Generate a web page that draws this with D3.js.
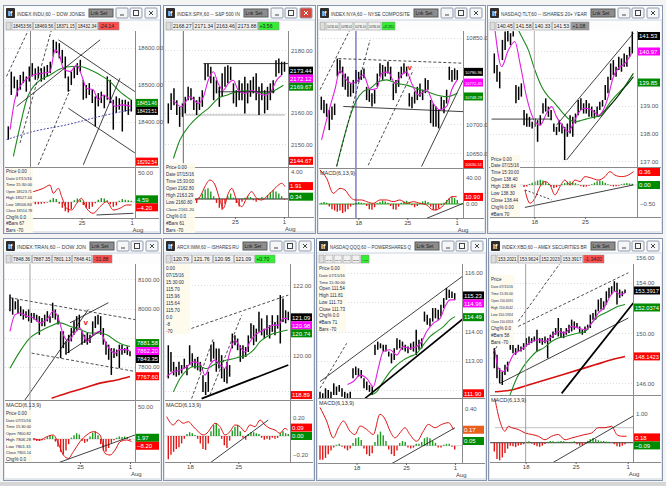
<!DOCTYPE html>
<html>
<head>
<meta charset="utf-8">
<script src="https://cdn.jsdelivr.net/npm/d3@7"></script>
<style>
body { margin: 0; background: #f2f2f2; }
svg { display: block; font-family: "Liberation Sans", Arial, sans-serif; }
</style>
</head>
<body>
<script>
// ---------- INDU ----------
var induBars = [[18388,18352],[18536,18473],[18523,18491],[18514,18469],[18527,18487],[18536,18505],[18523,18482],[18550,18509],[18559,18523],[18545,18514],[18550,18518],[18545,18509],[18550,18514],[18554,18523],[18563,18532],[18622,18577],[18617,18586],[18613,18572],[18595,18559],[18577,18518],[18523,18482],[18536,18500],[18550,18518],[18559,18527],[18568,18536],[18514,18460],[18500,18464],[18505,18473],[18487,18451],[18469,18388],[18478,18442],[18482,18451],[18473,18437],[18523,18460],[18514,18451],[18460,18379],[18469,18424],[18464,18433],[18460,18374],[18460,18428],[18455,18419],[18460,18428]];
var induFast = [[0.6,18379],[2.2,18460],[3.9,18496],[8.3,18527],[13.9,18536],[15.6,18595],[17.2,18577],[18.3,18545],[20.6,18536],[22.8,18554],[24.4,18527],[26.1,18491],[28.3,18487],[30,18460],[31.7,18473],[33.9,18460],[35.6,18442],[37.8,18446],[40.8,18442]];
var induSlow = [[1.7,18307],[3.9,18388],[6.1,18460],[9.4,18505],[13.9,18527],[17.8,18545],[21.1,18550],[23.9,18550],[27.2,18541],[30.6,18527],[33.9,18509],[37.2,18482],[40.8,18460]];
var induBlue = [[-0.6,18352],[8.3,18374],[19.4,18392],[30.6,18415],[40.8,18433]];
var induTrend = [[16.7,18622,42.2,18482],[20,18437,42.2,18316],[25,18284,37.2,18518],[2.8,18442,30.6,18622]];
var induDash = [[-0.6,18523,8.3,18676],[3.9,18343,15,18667],[10,18284,20.6,18487]];
var induTicks = [18600, 18500, 18400];
var induTags = [18433.51, null, 18451.46, 18292.54];
var induMacd = [[8.3,17.8],[11.7,23.6],[13.9,29.3],[15,15],[16.7,23.6],[17.8,9.2],[19.4,-10.9],[21.1,-13.8],[22.8,-2.3],[24.4,6.3],[26.1,-10.9],[28.3,-19.5],[30.6,-8],[32.8,0.6],[35,-13.8],[37.2,-10.9],[39.4,-5.2],[41.1,-5.2]];
var induHist = [-3,-4,-4,-3,-2,-1,4,7,5,-3,-10,-16,-18,-12,3,6,4,-5,-10,-12,-8,-2,4,7,6,3,-4,-8,-6,2,5,4,3,2];
var induMacdTrend = [[29.4,-22.4,41.7,-19.5]];
var induMacdTicks = [50];
var induMacdTags = [-4.20, 4.59];
var induDates = ["25", "1"];
var induDateIdx = [24.4, 41.1];
var induBar = ["18453.56", "18469.56", "18371.15", "18432.34", "-24.14"];
var induInfo = ["Price  0.00", "Date  07/15/16", "Time  15:30:00", "Open  18523.71", "High  18527.44", "Low  18506.84", "Close  18514.78", "Chg%  0.0", "#Bars  67", "Bars  -70"];

// ---------- SPX ----------
var spxBars = [[2163.0,2156.6],[2166.2,2160.9],[2167.8,2162.4],[2164.0,2159.3],[2161.9,2155.5],[2163.0,2158.7],[2165.1,2159.8],[2168.3,2164.0],[2167.8,2164.0],[2165.1,2160.9],[2164.0,2159.3],[2165.1,2160.9],[2167.2,2161.9],[2175.7,2170.4],[2175.7,2171.5],[2174.7,2169.4],[2171.5,2164.0],[2170.4,2166.2],[2168.3,2161.9],[2172.6,2165.1],[2174.7,2168.3],[2175.2,2169.4],[2174.7,2170.4],[2169.4,2163.0],[2167.2,2161.9],[2170.4,2164.0],[2169.4,2164.0],[2171.5,2159.8],[2169.4,2163.0],[2170.4,2165.1],[2171.5,2166.2],[2172.6,2164.0],[2168.3,2159.3],[2169.4,2164.0],[2167.2,2159.8],[2168.3,2160.9],[2169.4,2164.0],[2170.4,2166.2],[2176.8,2171.5],[2177.3,2172.6],[2176.3,2172.0],[2176.3,2173.1]];
var spxFast = [[1.8,2164.0],[4.7,2161.9],[7.6,2165.1],[10.6,2163.0],[12.4,2165.1],[14.1,2170.4],[15.9,2173.1],[17.6,2169.4],[19.4,2167.2],[21.2,2169.4],[22.9,2170.4],[24.7,2167.2],[27.1,2166.2],[29.4,2167.2],[31.8,2166.2],[34.1,2165.6],[36.5,2167.2],[38.2,2170.4],[40,2172.0]];
var spxSlow = [[1.8,2145.4],[4.1,2151.3],[7.6,2156.1],[11.2,2159.3],[14.7,2161.9],[17.6,2164.6],[20.6,2165.6],[24.1,2166.7],[27.6,2167.0],[31.2,2166.7],[34.7,2166.2],[37.6,2167.2],[40.6,2168.8]];
var spxTrend = [[12.4,2175.7,42.4,2175.7],[17.6,2166.7,37.6,2166.7]];
var spxFaint = [[5.9,2159.3,41.2,2159.3]];
var spxTicks = [2180, 2170, 2160, 2150];
var spxTags = [2173.44, 2172.12, 2169.67, 2144.67];
var spxMacd = [[9.4,-0.15],[11.2,0.35],[12.9,1.82],[14.7,2.81],[16.5,2.07],[18.2,-0.15],[19.4,-1.38],[21.2,0.84],[22.4,1.58],[24.1,-0.15],[25.9,-1.14],[27.6,0.1],[29.4,1.09],[31.2,0.1],[32.9,-0.15],[34.7,0.35],[36.5,1.09],[38.2,1.82],[40,2.32],[41.2,1.82]];
var spxHist = [-0.4,-0.6,0.2,0.8,1.4,1.6,1.1,0.4,-0.6,-1.3,-1.6,-0.7,0.4,0.8,0.2,-0.6,-1.1,-0.4,0.2,0.4,0.3,-0.2,-0.4,0.1,0.3,0.1,0.6,1.0,1.3,1.1,0.8,0.4,-0.1];
var spxMacdTicks = [4];
var spxMacdTags = [1.91, 0.34];
var spxDates = ["25", "1"];
var spxDateIdx = [23.5, 40.8];
var spxBar = ["2168.27", "2171.34", "2163.46", "2173.88", "+3.56"];
var spxInfo = ["Price  0.00", "Date  07/15/16", "Time  15:30:00", "Open  2162.80", "High  2163.29", "Low  2160.80", "Close  2161.20", "Chg%  0.0", "#Bars  61", "Bars  -70"];

// ---------- NYA ----------
var nyaBars = [[10748,10725],[10742,10719],[10736,10713],[10725,10690],[10731,10708],[10736,10716],[10814,10783],[10812,10788],[10800,10765],[10788,10760],[10783,10748],[10771,10748],[10777,10754],[10794,10771],[10791,10774],[10794,10777],[10797,10780],[10765,10742],[10760,10739],[10754,10731],[10760,10736],[10788,10765],[10806,10783],[10803,10777],[10800,10783],[10809,10788],[10800,10777],[10771,10742],[10777,10754],[10791,10765],[10800,10780],[10806,10788],[10800,10783],[10754,10731],[10748,10728],[10757,10736],[10765,10742],[10771,10748],[10760,10742],[10780,10754],[10777,10760],[10742,10702],[10736,10696],[10731,10696],[10725,10693],[10748,10725],[10742,10719],[10760,10736],[10800,10777],[10794,10774],[10797,10777],[10794,10777]];
var nyaFast = [[0.1,10673],[2.6,10719],[5.1,10760],[7,10794],[8.9,10780],[11.4,10771],[13.3,10774],[15.8,10786],[18.3,10760],[20.8,10762],[22.6,10788],[25.1,10791],[27.6,10771],[30.1,10786],[32,10791],[33.9,10771],[36.4,10751],[39.5,10760],[42,10736],[44.5,10725],[47,10731],[48.9,10760],[51,10777]];
var nyaSlow = [[5.75,10627],[8.25,10673],[10.75,10713],[13.25,10742],[15.75,10757],[18.25,10762],[21.4,10774],[24.5,10777],[28.25,10771],[32,10768],[35.75,10762],[39.5,10757],[43.25,10751],[47,10748],[51,10754]];
var nyaTrend = [[8.25,10731,53.25,10722],[37.6,10627,53.25,10777]];
var nyaDash = [[6.4,10814,53.25,10806],[-0.5,10760,12.6,10881],[5.75,10627,18.25,10846],[17.6,10629,34.5,10794]];
var nyaMarks = [[33.25,10797]];
var nyaTicks = [10850, 10800, 10750, 10700, 10650];
var nyaTags = [10790.96, 10772.45, 10748.29, 10630.51];
var nyaMacd = [[-0.5,52.3],[2,39.5],[4.5,16.4],[7,24.1],[8.9,21.5],[10.75,11.3],[12.6,6.2],[15.1,6.2],[17,3.6],[19.5,1.0],[22,6.2],[24.5,6.2],[27,3.6],[29.5,6.2],[32,1.0],[34.5,3.6],[37,1.0],[39.5,-1.5],[42,-9.2],[44.5,-6.7],[47,3.6],[48.9,11.3],[50.75,11.3]];
var nyaHist = [2,3,2,-4,-8,-10,-12,-10,-14,-12,-8,-4,-1,2,3,2,1,-3,-8,-9,-5,1,3,5,4,2,-3,-8,-9,-4,2,4,5,3,-2,-5,-3,2,4,5,3,-4,-9,-10,-7,-2,2,6,9,11,9,6];
var nyaMacdTrend = [[39.5,-22,53.25,1.0]];
var nyaMacdTicks = [40, 0];
var nyaMacdTags = [10.90, null];
var nyaDates = ["18", "25", "1"];
var nyaDateIdx = [13.9, 32.25, 50.75];
var nyaBar = ["10741.60", "10783.02", "10731.10", "10765.56", "+47.2851"];

// ---------- TLT ----------
var tltBars = [[140.90,140.18],[140.48,139.88],[140.24,139.64],[141.39,140.66],[141.69,141.02],[141.75,141.33],[141.63,141.20],[141.70,141.51],[139.76,139.10],[139.70,139.22],[139.82,139.34],[138.86,138.31],[138.73,138.25],[138.61,138.25],[138.43,138.19],[138.55,138.25],[138.49,137.71],[138.67,138.31],[139.10,138.73],[139.28,138.80],[138.98,138.61],[138.86,138.49],[138.37,138.07],[138.25,137.95],[138.49,138.07],[138.37,138.01],[138.25,137.05],[138.37,137.89],[138.67,138.01],[138.61,137.89],[138.73,138.37],[139.22,138.67],[139.28,138.86],[139.10,138.73],[139.22,138.73],[139.10,138.61],[138.98,138.61],[138.86,138.55],[138.98,138.61],[139.16,138.86],[139.22,138.98],[139.76,139.22],[140.06,139.46],[140.54,139.94],[140.66,140.12],[140.42,140.06],[140.78,140.30],[140.72,140.24],[140.90,140.42],[140.84,140.42],[141.14,140.78],[141.69,140.90]];
var tltFast = [[0.25,141.75],[2.7,140.42],[5.2,141.02],[7.6,141.33],[9.5,140.54],[11.9,139.34],[14.4,138.55],[16.9,138.31],[19.3,138.73],[21.2,138.98],[23,138.61],[25.5,138.25],[27.3,138.07],[29.2,138.37],[31,138.73],[33.5,138.92],[36,138.86],[38.4,138.67],[40.3,138.86],[42.1,139.34],[44,140.06],[45.8,140.36],[48.3,140.54],[50.7,140.90]];
var tltSlow = [[8.25,141.87],[10.1,141.51],[12.6,141.02],[15,140.30],[17.5,139.70],[20,139.34],[22.4,139.10],[24.9,138.80],[27.3,138.55],[29.8,138.43],[32.3,138.49],[34.7,138.55],[37.2,138.61],[39.7,138.67],[42.1,139.04],[44.6,139.34],[47,139.58],[49.5,139.82],[51.4,140.06]];
var tltSlow2 = [[38.4,138.61],[44.6,139.22],[51.4,140.18]];
var tltTrend = [[-1,138.53,21.2,138.53],[23,138.31,51.4,141.63],[26.7,137.05,51.4,140.06]];
var tltTicks = [141, 140, 139, 138, 137];
var tltTags = [141.53, 140.97, 139.85, null];
var tltMacd = [[11.3,-0.13],[13.2,-0.48],[15,-0.35],[16.9,-0.04],[18.7,0.09],[20.6,0],[22.4,-0.26],[24.3,-0.04],[26.1,0.13],[28,0],[29.8,0.13],[31.7,0.09],[33.5,0.22],[36,0.18],[38.4,0.13],[40.9,0.22],[42.7,0.35],[44.6,0.26],[47,0.22],[49.5,0.26],[51.4,0.35]];
var tltHist = [-0.05,-0.04,0.03,0.06,0.09,0.12,0.14,0.12,0.08,0.03,-0.04,-0.08,-0.06,-0.02,0.02,0.05,0.08,0.1,0.08,0.05,0.02,-0.03,-0.05,-0.04,-0.02,0.02,0.06,0.1,0.12,0.1,0.06,0.02,-0.02,-0.04,-0.03,-0.02,0.02,0.04,0.05,0.04,0.03];
var tltMacdTrend = [[11.3,-0.59,51.4,0]];
var tltMacdDash = [[11.3,-0.13,21.2,-0.39]];
var tltMacdTicks = [-0.5];
var tltMacdTags = [0.36, 0.00];
var tltDates = ["18", "25"];
var tltDateIdx = [14.8, 33.5];
var tltBar = ["140.45", "141.58", "140.33", "141.53", "+1.08"];
var tltInfo = ["Price  0.00", "Date  07/15/16", "Time  15:30:00", "Open  138.40", "High  138.64", "Low  138.30", "Close  138.44", "Chg%  0.00", "#Bars  70"];

// ---------- TRAN ----------
var tranBars = [[8048,7991],[8037,7979],[8025,7997],[8031,7985],[8008,7974],[7997,7962],[7991,7968],[7997,7956],[7985,7951],[7985,7962],[7979,7956],[7974,7910],[7968,7939],[7979,7939],[7991,7956],[7974,7951],[8020,7968],[7997,7962],[7979,7945],[7922,7830],[7922,7864],[7887,7841],[7910,7847],[7933,7887],[7956,7910],[7974,7922],[7979,7933],[7922,7876],[7910,7882],[7916,7876],[7910,7882],[7956,7910],[7974,7933],[7979,7945],[7974,7910],[7933,7876],[7887,7841],[7876,7824],[7864,7772],[7864,7830],[7859,7836],[7876,7795],[7876,7841],[7864,7847],[7870,7841],[7853,7836]];
var tranFast = [[0,7922],[1.9,7979],[3.75,7985],[6.25,7974],[8.75,7968],[11.25,7951],[13.75,7962],[16.25,7991],[18.1,7968],[20,7910],[21.9,7887],[23.75,7910],[26.25,7933],[28.75,7887],[31.25,7910],[33.75,7922],[35.6,7887],[37.5,7859],[39.4,7847],[41.25,7859],[43.75,7859],[45,7853]];
var tranSlow = [[0,7795],[3.75,7853],[7.5,7899],[11.25,7922],[15,7939],[18.75,7951],[22.5,7939],[26.25,7928],[30,7916],[33.75,7916],[36.25,7910],[40,7887],[42.5,7876],[45,7870]];
var tranLong = [[15.6,7692],[21.25,7709],[27.5,7726],[33.75,7744],[40,7755],[45,7767]];
var tranTrend = [[5.6,7686,29.4,7997],[22.5,7951,36.9,8020],[21.25,7847,33.75,7922]];
var tranDash = [[0,8037,46.9,7962],[8.1,7847,46.9,7784],[0,8158,1.9,8204]];
var tranMarks = [[28.5,7951]];
var tranTicks = [8100, 8000, 7900, 7800];
var tranTags = [7843.35, 7862.20, 7881.58, 7767.60];
var tranMacd = [[8.75,1.0],[11.25,-1.6],[13.75,3.6],[16.25,6.3],[18.1,-6.8],[20,-25],[21.9,-30.2],[23.75,-19.8],[26.25,-4.2],[28.75,6.3],[31.25,11.5],[33.75,6.3],[35.6,-22.4],[37.5,-25],[39.4,-17.2],[41.25,-4.2],[43.75,-1.6],[45.6,-4.2]];
var tranHist = [-2,-3,-3,-2,-1,3,6,5,-4,-12,-20,-24,-18,-8,2,6,9,7,-3,-6,-4,4,10,12,6,-8,-18,-20,-14,-6,-2,2,4,3,4,3,-2];
var tranMacdTrend = [[17.5,-38,46.9,6.3]];
var tranMacdTicks = [50];
var tranMacdTags = [-8.20, 1.97];
var tranDates = ["25", "1"];
var tranDateIdx = [26.25, 45];
var tranBar = ["7848.36", "7887.35", "7801.13", "7848.41", "-31.88"];
var tranInfo = ["Price  0.00", "Date  07/15/16", "Time  15:30:00", "Open  7800.82", "High  7806.28", "Low  7801.31", "Close  7805.14", "Chg%  0.0"];

// ---------- IWM ----------
var iwmBars = [[120.30,119.36],[120.11,119.55],[119.83,119.45],[119.69,119.41],[119.83,119.45],[119.74,119.50],[119.92,119.64],[119.74,119.45],[120.30,119.74],[120.07,119.69],[119.92,119.64],[119.97,119.59],[119.83,119.55],[119.45,118.98],[119.26,118.89],[119.55,118.98],[120.30,119.83],[120.40,119.92],[120.21,119.55],[120.21,119.64],[120.02,119.36],[119.64,119.26],[119.83,119.22],[119.74,119.41],[120.63,120.21],[120.58,120.30],[120.49,120.16],[120.30,119.83],[120.30,119.92],[120.25,119.97],[120.58,120.11],[120.92,120.49],[120.87,120.30],[120.77,120.40],[121.25,120.68],[121.06,120.58],[120.77,120.49],[121.15,120.58],[120.87,120.49],[121.15,120.68],[120.96,120.58],[121.15,120.77],[121.72,120.35],[121.62,120.96],[121.29,120.92],[121.25,121.01]];
var iwmFast = [[-0.6,119.41],[1.9,119.55],[4.4,119.59],[6.9,119.69],[9.4,119.83],[11.9,119.78],[13.75,119.45],[15.6,119.74],[17.5,119.88],[19.4,119.74],[21.25,119.64],[23.1,120.11],[25,120.44],[26.9,120.25],[28.75,120.11],[30.6,120.40],[32.5,120.58],[34.4,120.68],[36.9,120.77],[39.4,120.87],[41.25,120.87],[43.1,121.06],[44.75,121.06]];
var iwmSlow = [[1.9,118.98],[4.4,119.36],[6.9,119.59],[9.4,119.69],[11.9,119.69],[14.4,119.64],[16.9,119.74],[19.4,119.83],[21.9,119.88],[24.4,119.92],[26.9,119.97],[29.4,120.02],[31.9,120.16],[34.4,120.40],[36.9,120.54],[39.4,120.63],[41.9,120.68],[44.75,120.73]];
var iwmHeavy = [[12.5,118.79,45,119.74]];
var iwmDash = [[6.9,120.73,45,121.72],[8.75,118.79,16.9,120.49],[15.6,118.89,27.5,121.15]];
var iwmTicks = [122, 121, 120, 119];
var iwmTags = [121.09, 120.98, 120.74, 118.89];
var iwmMacd = [[-0.6,0.207],[1.9,0.118],[3.75,0.171],[5.6,0.136],[7.5,0.153],[9.4,0.1],[11.25,0.046],[13.1,0.011],[15,0.046],[16.25,0.1],[17.5,0.136],[19.4,0.1],[21.25,0.011],[23.1,0.046],[25,0.118],[26.9,0.1],[28.75,0.046],[30.6,0.118],[32.5,0.1],[34.4,0.171],[36.25,0.118],[38.1,0.082],[40,0.064],[41.9,0.029],[43.75,0.082],[44.75,0.064]];
var iwmHist = [-0.25,-0.2,-0.17,-0.14,-0.12,-0.08,-0.03,0.02,0.04,0.03,0.01,-0.03,-0.08,-0.14,-0.15,-0.08,0.05,0.12,0.14,0.08,-0.03,-0.1,-0.13,-0.05,0.06,0.1,0.12,0.05,-0.02,-0.04,0.02,0.04,0.04,0.03,0.02,-0.02,-0.04,-0.03,-0.04,-0.02,-0.03,-0.02,0.03,0.05,0.03,0.02];
var iwmMacdTrend = [[15.6,-0.29,37.5,0.171]];
var iwmMacdTicks = [0.2, -0.2];
var iwmMacdTags = [0.09, 0.00];
var iwmDates = ["18", "25"];
var iwmDateIdx = [8.1, 26.25];
var iwmBar = ["120.79", "121.76", "120.95", "121.09", "+0.70"];
var iwmInfo = ["0.00", "07/15/16", "15:30:00", "115.70", "115.96", "115.64", "115.70", "0.0", "-8", "-70"];

// ---------- QQQ ----------
var qqqBars = [[111.95,111.73],[111.90,111.73],[112.07,111.73],[112.01,111.73],[111.95,111.73],[112.24,111.84],[112.13,111.84],[112.18,111.95],[112.07,111.78],[111.95,111.73],[111.90,111.73],[111.95,111.73],[112.75,112.41],[112.81,112.52],[112.75,112.47],[112.69,112.41],[112.41,112.07],[112.30,112.01],[112.18,111.95],[112.13,111.84],[113.55,113.20],[113.66,113.38],[113.60,113.43],[113.55,113.32],[113.55,113.32],[113.32,113.15],[113.26,112.92],[113.43,113.03],[113.77,113.38],[113.72,113.43],[113.66,113.38],[113.55,113.32],[113.49,113.26],[113.60,113.38],[113.66,113.32],[114.06,113.20],[113.72,113.38],[113.77,113.43],[114.68,114.34],[114.57,114.23],[114.45,114.17],[114.80,114.34],[114.80,114.45],[114.74,114.40],[114.91,114.51],[115.14,114.80],[115.48,115.08],[115.42,115.14],[115.36,115.14],[115.31,115.08]];
var qqqFast = [[10,112.2],[12.1,112.30],[14.6,112.52],[17,112.41],[19.4,112.13],[21.2,112.75],[23,113.32],[25.5,113.38],[27.9,113.20],[30.3,113.49],[32.7,113.43],[35.2,113.49],[37,113.66],[38.8,114.0],[41.2,114.28],[43.7,114.45],[45.5,114.85],[47.3,115.08],[49.1,115.08]];
var qqqSlow = [[18.2,111.84],[20.6,111.95],[23,112.30],[25.5,112.64],[27.9,112.86],[30.3,113.03],[32.7,113.15],[35.2,113.26],[37.6,113.55],[40,113.83],[42.4,114.0],[44.9,114.17],[47.3,114.40],[49.1,114.51]];
var qqqTrend = [[0,112.30,53.4,115.99]];
var qqqHeavy = [[16.4,111.73,52.2,114.45]];
var qqqDash = [[0,112.07,9.7,113.60]];
var qqqTicks = [116, 115, 114, 113, 112];
var qqqTags = [115.23, 114.96, 114.49, 111.90];
var qqqMacd = [[0,0.407],[2.4,0.263],[4.85,0.083],[6.7,0.191],[8.5,0.263],[10.9,0.155],[12.7,0.119],[14.6,0.209],[17,0.173],[19.4,0.119],[21.8,0.335],[23.7,0.281],[25.5,0.155],[27.3,0.083],[29.1,0.137],[30.9,0.191],[32.7,0.119],[35.2,0.047],[37.6,0.155],[39.4,0.227],[41.8,0.191],[44.3,0.227],[46.7,0.245],[48.5,0.173]];
var qqqHist = [-0.15,-0.15,-0.13,-0.09,-0.05,-0.02,0.01,0.02,-0.01,-0.03,-0.05,-0.03,0.03,0.08,0.09,0.06,-0.03,-0.09,-0.11,-0.08,0.04,0.12,0.15,0.11,0.05,-0.04,-0.09,-0.11,-0.05,0.03,0.05,0.04,-0.02,-0.03,-0.02,0.02,0.02,0.04,0.08,0.09,0.08,0.05,0.03,-0.02,-0.02,0.01,0.02,0.02,-0.01,-0.04];
var qqqMacdTrend = [[26.1,-0.19,49.1,0.191]];
var qqqMacdTicks = [0.4, 0];
var qqqMacdTags = [0.17, 0.05];
var qqqDates = ["18", "25", "1"];
var qqqDateIdx = [13.3, 31.3, 49.1];
var qqqBar = ["114.20", "115.48", "114.97", "115.23", "+0.30"];
var qqqInfo = ["Price  0.00", "Date  07/15/16", "Time  15:30:00", "Open  111.54", "High  111.81", "Low  111.73", "Close  111.73", "Chg%  0.0", "#Bars  71", "Bars  -70"];

// ---------- XBD ----------
var xbdBars = [[148.80,147.20],[148.27,146.40],[147.20,146.00],[146.93,145.87],[147.47,146.67],[147.73,146.93],[149.33,148.67],[149.07,148.40],[148.80,148.27],[149.07,148.53],[148.93,148.53],[149.20,148.67],[149.60,148.93],[149.73,149.07],[149.60,149.20],[149.73,149.33],[150.27,148.53],[149.60,149.20],[149.60,149.07],[149.73,149.20],[149.60,148.00],[149.87,149.33],[150.13,149.60],[150.40,149.87],[151.20,149.73],[150.40,149.60],[150.13,149.60],[150.40,149.87],[150.67,150.00],[151.07,150.13],[150.93,150.27],[150.80,150.40],[150.53,150.00],[150.27,149.87],[150.53,150.00],[150.67,150.27],[151.47,150.40],[151.60,151.07],[151.87,151.07],[152.67,151.73],[152.80,151.87],[152.53,151.87],[153.33,152.27],[153.60,152.80],[153.73,153.07],[154.13,153.33],[154.00,152.27],[153.47,152.80],[153.33,152.93],[153.47,153.20]];
var xbdFast = [[0.25,148.67],[1.5,147.20],[3.4,146.93],[5.25,147.47],[7.1,148.27],[9,148.53],[11.5,148.93],[14,149.33],[16.5,149.47],[19,149.33],[21.5,149.73],[24,150.13],[26.5,150.0],[29,150.53],[31.5,150.40],[34,150.27],[36.5,150.80],[39,151.60],[41.5,152.13],[43.4,152.93],[45.25,153.33],[47.1,153.07],[49,153.20]];
var xbdSlow = [[5.9,145.07],[8.4,146.40],[10.9,147.33],[13.4,148.0],[15.9,148.53],[18.4,148.80],[21.5,149.33],[24,149.60],[26.5,149.73],[29,149.87],[31.5,150.0],[34,150.13],[36.5,150.80],[39,151.33],[41.5,151.60],[44,151.87],[46.5,152.13],[49,152.27]];
var xbdLong = [[0.25,145.33],[6.5,145.47],[12.75,145.87],[19,146.27],[25.25,146.67],[31.5,147.07],[37.75,147.47],[44,147.87],[49,148.13]];
var xbdTrend = [[2.1,146.0,50.25,151.20]];
var xbdHeavy = [[25.25,145.2,52.1,152.4]];
var xbdDash = [[9,150.53,50.25,154.80],[9,150.93,25.25,155.73],[-0.4,148.4,5.25,150.67]];
var xbdTicks = [156, 154, 152, 150, 148, 146];
var xbdTags = [153.3917, null, 152.0374, 148.1423];
var xbdMacd = [[0.25,1.48],[2.1,0.73],[4,0.39],[5.25,0.56],[6.5,0.51],[9,0.45],[11.5,0.33],[14,0.28],[16.5,0.22],[19,0.10],[21.5,0.22],[24,0.28],[26.5,0.10],[29,0.16],[31.5,0.22],[34,0.28],[36.5,0.33],[39,0.51],[41.5,0.51],[44,0.56],[45.9,0.28],[47.75,0.22],[49.6,0.22]];
var xbdHist = [-0.3,-0.55,-0.6,-0.5,-0.35,-0.2,-0.1,-0.12,-0.15,-0.1,-0.08,-0.05,0.03,0.05,-0.03,-0.08,-0.12,-0.14,-0.1,-0.04,0.03,0.06,0.05,0.03,0.04,0.06,0.05,0.03,0.01,0.03,0.05,-0.05,-0.1,-0.08,-0.03,0.06,0.12,0.16,0.12,0.08,0.05,0.06,0.04,0.03,0.01,-0.05,-0.12,-0.14,-0.1,-0.05];
var xbdMacdTrend = [[21.5,-0.7,52.1,0.91]];
var xbdMacdFaint = [[0.25,0.51,52.5,0.51]];
var xbdMacdTicks = [1.0];
var xbdMacdTags = [0.18, -0.09];
var xbdDates = ["18", "25", "1"];
var xbdDateIdx = [11.75, 30.5, 50];
var xbdBar = ["153.2021", "153.9624", "152.2023", "153.3917", "-1.3400"];
var xbdInfo = ["Price", "Date  07/15/16", "Time  15:30:00", "Open  150.6591", "High  150.6542", "Low  150.5924", "Close  150.6353", "Chg%  0.0", "#Bars  58", "Bars  -70"];

var W = 666, H = 486;
var svg = d3.select("body").append("svg").attr("width", W).attr("height", H);
svg.append("rect").attr("width", W).attr("height", H).attr("fill", "#f4f4f4");
svg.append("rect").attr("x", 0).attr("y", 482).attr("width", W).attr("height", 4).attr("fill", "#d6d6d6");

var tagColors = ["#000000", "#ff00ff", "#008a00", "#ff0000"];
var red = "#ff4d4d", green = "#33ee33", gray = "#9a9a9a";

var panels = [
  {title: "INDEX:INDU,60 -- DOW JONES", win: [3, 5, 161, 234], left: 5, axis: 135, xr: [8.3, 131.3], pb: 167, mb: 218, tbEnd: 120,
   yd: [18278, 18646], md: [-27.6, 58.6], bars: induBars, fast: induFast, slow: induSlow, blue: induBlue,
   trend: induTrend, dash: induDash, cursor: 7.4, ticks: induTicks, tags: induTags, fmt: ".2f",
   macd: induMacd, hist: induHist, hs: 8, mtrend: induMacdTrend, mticks: induMacdTicks, mtags: induMacdTags,
   dates: induDates, dateIdx: induDateIdx, bar: induBar, chgC: red, info: induInfo, infoBox: [5, 168, 28, 65]},
  {title: "INDEX:SPX,60 -- S&P 500 IN", win: [163, 5, 316, 234], left: 165, axis: 288, xr: [168.3, 284.5], pb: 167, mb: 217, tbEnd: 280,
   yd: [2142.7, 2186.1], md: [-2.67, 4.59], bars: spxBars, fast: spxFast, slow: spxSlow,
   trend: spxTrend, faint: spxFaint, cursor: 5.3, cursorC: "#555", ticks: spxTicks, tags: spxTags, fmt: ".2f",
   macd: spxMacd, hist: spxHist, hs: 9, mticks: spxMacdTicks, mtags: spxMacdTags, zeroC: "#000",
   dates: spxDates, dateIdx: spxDateIdx, bar: spxBar, chgC: green, info: spxInfo, infoBox: [165, 163, 30, 70], redClose: true},
  {title: "INDEX:NYA,60 -- NYSE COMPOSITE", win: [317, 5, 486, 234], left: 319, axis: 463, xr: [321.3, 457.3], pb: 168, mb: 218, tbEnd: 396,
   yd: [10624.3, 10861.8], md: [-21.5, 53.8], bars: nyaBars, fast: nyaFast, slow: nyaSlow,
   trend: nyaTrend, dash: nyaDash, marks: nyaMarks, cursor: 13, cursorC: "#2a2aa0", ticks: nyaTicks, tags: nyaTags, fmt: ".2f",
   macd: nyaMacd, hist: nyaHist, hs: 0, mtrend: nyaMacdTrend, mticks: nyaMacdTicks, mtags: nyaMacdTags, zeroC: "#1e9a1e",
   dates: nyaDates, dateIdx: nyaDateIdx, bar: nyaBar, chgC: green},
  {title: "NASDAQ:TLT,60 -- ISHARES 20+ YEAR", win: [487, 5, 663, 234], left: 490, axis: 637, xr: [494.3, 632.3], pb: 167, mb: 217, tbEnd: 590,
   yd: [136.80, 141.71], md: [-0.842, 0.447], bars: tltBars, fast: tltFast, slow: tltSlow, slow2: tltSlow2,
   trend: tltTrend, cursor: 14.8, cursorC: "#aaa", ticks: tltTicks, tags: tltTags, fmt: ".2f",
   macd: tltMacd, hist: tltHist, hs: 11, mtrend: tltMacdTrend, mdash: tltMacdDash, mticks: tltMacdTicks, mtags: tltMacdTags,
   dates: tltDates, dateIdx: tltDateIdx, bar: tltBar, chgC: gray, info: tltInfo, infoBox: [490, 155, 30, 62]},
  {title: "INDEX:TRAN,60 -- DOW JON", win: [3, 238, 162, 481], left: 5, axis: 135, xr: [10, 130], pb: 400, mb: 462, tbEnd: 113,
   yd: [7686, 8153], md: [-35.9, 59.4], bars: tranBars, fast: tranFast, slow: tranSlow, long: tranLong,
   trend: tranTrend, dash: tranDash, marks: tranMarks, cursor: 7.5, cursorC: "#999", ticks: tranTicks, tags: tranTags, fmt: ".2f",
   macd: tranMacd, hist: tranHist, hs: 9, mtrend: tranMacdTrend, mticks: tranMacdTicks, mtags: tranMacdTags,
   dates: tranDates, dateIdx: tranDateIdx, bar: tranBar, chgC: red, info: tranInfo, infoBox: [5, 410, 27, 52]},
  {title: "ARCX:IWM,60 -- ISHARES RU", win: [163, 238, 315, 481], left: 165, axis: 290, xr: [168.3, 288.3], pb: 400, mb: 462, tbEnd: 276,
   yd: [118.75, 122.6], md: [-0.279, 0.375], bars: iwmBars, fast: iwmFast, slow: iwmSlow,
   heavy: iwmHeavy, dash: iwmDash, ticks: iwmTicks, tags: iwmTags, fmt: ".2f",
   macd: iwmMacd, hist: iwmHist, hs: 0, mtrend: iwmMacdTrend, mticks: iwmMacdTicks, mtags: iwmMacdTags,
   dates: iwmDates, dateIdx: iwmDateIdx, bar: iwmBar, chgC: green, info: iwmInfo, infoBox: [165, 264, 25, 70]},
  {title: "NASDAQ:QQQ,60 -- POWERSHARES Q", win: [316, 238, 487, 481], left: 318, axis: 462, xr: [320, 454.7], pb: 398, mb: 463, tbEnd: 370,
   yd: [111.74, 116.3], md: [-0.184, 0.497], bars: qqqBars, fast: qqqFast, slow: qqqSlow,
   trend: qqqTrend, heavy: qqqHeavy, dash: qqqDash, ticks: qqqTicks, tags: qqqTags, fmt: ".2f",
   macd: qqqMacd, hist: qqqHist, hs: 0, mtrend: qqqMacdTrend, mticks: qqqMacdTicks, mtags: qqqMacdTags, firstMacdTag: "#e8601c",
   dates: qqqDates, dateIdx: qqqDateIdx, bar: qqqBar, chgC: green, info: qqqInfo, infoBox: [318, 265, 28, 67]},
  {title: "INDEX:XBD,60 -- AMEX SECURITIES BR", win: [488, 238, 663, 481], left: 490, axis: 633, xr: [494.3, 625], pb: 395, mb: 462, tbEnd: 605,
   yd: [145.07, 155.5], md: [-0.655, 1.586], bars: xbdBars, fast: xbdFast, slow: xbdSlow, long: xbdLong,
   trend: xbdTrend, heavy: xbdHeavy, dash: xbdDash, cursor: 11.75, cursorC: "#999", ticks: xbdTicks, tags: xbdTags, fmt: ".4f",
   macd: xbdMacd, hist: xbdHist, hs: 0, mtrend: xbdMacdTrend, mfaint: xbdMacdFaint, mticks: xbdMacdTicks, mtags: xbdMacdTags, zeroC: "#222",
   dates: xbdDates, dateIdx: xbdDateIdx, bar: xbdBar, chgC: red, info: xbdInfo, infoBox: [490, 275, 24, 70]}
];

// shrink the font of a text node so it never runs wider than w
function fit(sel, w) {
  sel.each(function() {
    var n = this.getComputedTextLength();
    if (n > w) {
      var fs = parseFloat(d3.select(this).attr("font-size"));
      d3.select(this).attr("font-size", (fs * w / n).toFixed(2));
    }
  });
}

function drawTags(g, vals, colors, scale, fmt, xa, xe, yMin, yMax) {
  var items = [];
  vals.forEach(function(v, i) { if (v !== null) items.push({v: v, c: colors[i], y: scale(v)}); });
  items.sort(function(a, b) { return a.y - b.y; });
  var h = 8, prev = -1e9;
  items.forEach(function(d) {
    d.y = Math.max(d.y, prev + h, yMin + h / 2);
    d.y = Math.min(d.y, yMax - h / 2);
    prev = d.y;
  });
  var f = d3.format(fmt);
  var t = g.selectAll(null).data(items).enter().append("g");
  t.append("rect").attr("x", xa + 1).attr("y", function(d) { return d.y - h / 2; })
    .attr("width", xe - xa - 2).attr("height", h).attr("fill", function(d) { return d.c; });
  t.append("text").attr("x", xa + 2).attr("y", function(d) { return d.y + 2.3; })
    .attr("font-size", 6).attr("fill", "#fff").text(function(d) { return f(d.v); })
    .call(fit, xe - xa - 4);
  return items.map(function(d) { return d.y; });
}

function freeTicks(ticks, sc, taken) {
  return ticks.filter(function(t) {
    return taken.every(function(ty) { return Math.abs(sc(t) - ty) > 7; });
  });
}

function drawPanel(c, k) {
  var x0 = c.win[0], y0 = c.win[1], x1 = c.win[2], y1 = c.win[3];
  var pt = y0 + 26;
  var g = svg.append("g");

  // window frame and title bar
  g.append("rect").attr("x", x0 + 0.5).attr("y", y0 + 0.5).attr("width", x1 - x0 - 1).attr("height", y1 - y0 - 1)
    .attr("fill", "#e3e8ef").attr("stroke", "#8796ad");
  g.append("rect").attr("x", x0 + 1).attr("y", y0 + 1).attr("width", x1 - x0 - 2).attr("height", 13).attr("fill", "#fbfcfe");
  g.append("rect").attr("x", x0 + 3).attr("y", y0 + 3).attr("width", 9).attr("height", 10).attr("rx", 1).attr("fill", "#2d2d2d");
  g.append("text").attr("x", x0 + 5).attr("y", y0 + 11).attr("font-size", 7).attr("font-weight", "bold").attr("fill", "#fff").text("lf");
  g.append("text").attr("x", x0 + 14).attr("y", y0 + 10.8).attr("font-size", 6.6).attr("fill", "#3a3a3a")
    .text(c.title).call(fit, x1 - 76 - (x0 + 14));
  g.append("rect").attr("x", x1 - 72).attr("y", y0 + 4).attr("width", 24).attr("height", 8).attr("fill", "#8d8d8d").attr("stroke", "#5a5a5a");
  g.append("text").attr("x", x1 - 70.5).attr("y", y0 + 10.3).attr("font-size", 5).attr("fill", "#1c1c1c").text("Lnk Set").call(fit, 20);
  [x1 - 45, x1 - 31, x1 - 16].forEach(function(b, i) {
    g.append("rect").attr("x", b).attr("y", y0 + 3).attr("width", 12).attr("height", 10).attr("rx", 1)
      .attr("fill", (i === 2 && c.redClose) ? "#d8463a" : "#f5f6f8").attr("stroke", "#8f99aa");
    var gc = (i === 2 && c.redClose) ? "#fff" : "#444";
    if (i === 0) g.append("line").attr("x1", b + 4).attr("x2", b + 8).attr("y1", y0 + 10).attr("y2", y0 + 10).attr("stroke", gc);
    if (i === 1) g.append("rect").attr("x", b + 3.5).attr("y", y0 + 5.5).attr("width", 5).attr("height", 5).attr("fill", "none").attr("stroke", gc);
    if (i === 2) {
      g.append("line").attr("x1", b + 4).attr("x2", b + 8).attr("y1", y0 + 6).attr("y2", y0 + 10).attr("stroke", gc);
      g.append("line").attr("x1", b + 8).attr("x2", b + 4).attr("y1", y0 + 6).attr("y2", y0 + 10).attr("stroke", gc);
    }
  });

  // toolbar of OHLC values
  var ty = y0 + 16;
  g.append("rect").attr("x", x0 + 2).attr("y", ty).attr("width", x1 - x0 - 4).attr("height", 10).attr("fill", "#fdfdfd");
  g.append("rect").attr("x", x0 + 3).attr("y", ty + 1).attr("width", 5).attr("height", 8).attr("fill", "#ddd").attr("stroke", "#888").attr("stroke-width", 0.5);
  var bw = (c.tbEnd - (x0 + 9)) / c.bar.length;
  c.bar.forEach(function(t, i) {
    var bx = x0 + 9 + i * bw, last = i === c.bar.length - 1;
    g.append("rect").attr("x", bx).attr("y", ty + 1).attr("width", bw - 1).attr("height", 8)
      .attr("fill", last ? c.chgC : "#f1f1f1").attr("stroke", "#8a8a8a").attr("stroke-width", 0.5);
    g.append("text").attr("x", bx + 1).attr("y", ty + 7).attr("font-size", 5.2).attr("fill", "#222").text(t).call(fit, bw - 3);
  });

  // scales
  var x = d3.scaleLinear().domain([0, c.bars.length - 1]).range(c.xr);
  var y = d3.scaleLinear().domain(c.yd).range([c.pb, pt]);
  var m = d3.scaleLinear().domain(c.md).range([c.mb, c.pb + 1]);

  // content background
  g.append("rect").attr("x", x0 + 2).attr("y", pt).attr("width", x1 - x0 - 4).attr("height", y1 - 3 - pt).attr("fill", "#fff");

  var defs = g.append("defs");
  defs.append("clipPath").attr("id", "cp" + k).append("rect").attr("x", c.left).attr("y", pt).attr("width", c.axis - c.left).attr("height", c.pb - pt);
  defs.append("clipPath").attr("id", "cm" + k).append("rect").attr("x", c.left).attr("y", c.pb + 1).attr("width", c.axis - c.left).attr("height", c.mb - c.pb - 1);

  var pg = g.append("g").attr("clip-path", "url(#cp" + k + ")");
  var mg = g.append("g").attr("clip-path", "url(#cm" + k + ")");

  // grid
  pg.selectAll(null).data(c.ticks).enter().append("line")
    .attr("x1", c.left).attr("x2", c.axis).attr("y1", function(d) { return Math.round(y(d)) + 0.5; }).attr("y2", function(d) { return Math.round(y(d)) + 0.5; })
    .attr("stroke", "#c8c8c8").attr("stroke-width", 0.6).attr("stroke-dasharray", "1,2");

  if (c.cursor !== undefined) {
    g.append("line").attr("x1", x(c.cursor)).attr("x2", x(c.cursor)).attr("y1", pt).attr("y2", c.mb)
      .attr("stroke", c.cursorC || "#777").attr("stroke-width", 0.9);
  }

  function segs(sel, arr, sc, col, w, dash) {
    sel.selectAll(null).data(arr || []).enter().append("line")
      .attr("x1", function(d) { return x(d[0]); }).attr("y1", function(d) { return sc(d[1]); })
      .attr("x2", function(d) { return x(d[2]); }).attr("y2", function(d) { return sc(d[3]); })
      .attr("stroke", col).attr("stroke-width", w).attr("stroke-dasharray", dash || null);
  }

  segs(pg, c.faint, y, "#9a9a9a", 0.8);

  // bars
  pg.selectAll(null).data(c.bars).enter().append("line")
    .attr("x1", function(d, i) { return x(i); }).attr("x2", function(d, i) { return x(i); })
    .attr("y1", function(d) { return y(d[0]); }).attr("y2", function(d) { return y(d[1]); })
    .attr("stroke", "#000").attr("stroke-width", 1.5);

  // averages
  var lp = d3.line().x(function(d) { return x(d[0]); }).y(function(d) { return y(d[1]); }).curve(d3.curveMonotoneX);
  function ma(arr, col, w, dash) {
    if (!arr) return;
    pg.append("path").datum(arr).attr("d", lp).attr("fill", "none").attr("stroke", col).attr("stroke-width", w).attr("stroke-dasharray", dash || null);
  }
  ma(c.blue, "#3a3ab0", 0.9, "2,1.5");
  ma(c.long, "#d81010", 1.6);
  ma(c.slow, "#1d8a1d", 1.1);
  ma(c.slow2, "#0d5c0d", 1.1);
  ma(c.fast, "#e020e0", 1.1);

  segs(pg, c.trend, y, "#111", 0.8);
  segs(pg, c.heavy, y, "#000", 1.7);
  segs(pg, c.dash, y, "#222", 0.8, "3,2");

  pg.selectAll(null).data(c.marks || []).enter().append("text")
    .attr("x", function(d) { return x(d[0]) - 2.5; }).attr("y", function(d) { return y(d[1]) + 2; })
    .attr("font-size", 8).attr("font-weight", "bold").attr("fill", "#d81818").text("v");

  // panes borders and axis line
  g.append("line").attr("x1", x0 + 2).attr("x2", x1 - 2).attr("y1", c.pb + 0.5).attr("y2", c.pb + 0.5).attr("stroke", "#8a8a8a");
  g.append("line").attr("x1", c.left).attr("x2", x1 - 2).attr("y1", c.mb + 0.5).attr("y2", c.mb + 0.5).attr("stroke", "#8a8a8a");
  g.append("line").attr("x1", c.axis + 0.5).attr("x2", c.axis + 0.5).attr("y1", pt).attr("y2", c.mb).attr("stroke", "#8a8a8a");

  function styleAxis(s) {
    s.select(".domain").remove();
    s.attr("font-size", 6).attr("font-family", null);
    s.selectAll("text").attr("fill", "#555");
  }

  // price axis and value tags
  var ag = g.append("g");
  var taken = drawTags(g, c.tags, tagColors, y, c.fmt, c.axis, x1 - 2, pt, c.pb);
  ag.attr("transform", "translate(" + c.axis + ",0)")
    .call(d3.axisRight(y).tickValues(freeTicks(c.ticks, y, taken)).tickFormat(d3.format(".2f")).tickSize(0).tickPadding(3))
    .call(styleAxis);

  // MACD pane
  mg.append("line").attr("x1", c.left).attr("x2", c.axis).attr("y1", m(0)).attr("y2", m(0))
    .attr("stroke", c.zeroC || "#bbb").attr("stroke-width", c.zeroC ? 0.9 : 0.6);
  segs(mg, c.mfaint, m, "#aaa", 0.7);
  mg.selectAll(null).data(c.hist).enter().append("line")
    .attr("x1", function(d, i) { return x(c.hs + i); }).attr("x2", function(d, i) { return x(c.hs + i); })
    .attr("y1", m(0)).attr("y2", function(d) { return m(d); })
    .attr("stroke", function(d) { return d >= 0 ? "#1e9a1e" : "#e01818"; }).attr("stroke-width", 1.4);
  var lm = d3.line().x(function(d) { return x(d[0]); }).y(function(d) { return m(d[1]); }).curve(d3.curveMonotoneX);
  mg.append("path").datum(c.macd).attr("d", lm).attr("fill", "none").attr("stroke", "#e01414").attr("stroke-width", 1);
  segs(mg, c.mtrend, m, "#111", 0.8);
  segs(mg, c.mdash, m, "#111", 0.8, "2,2");

  var mag = g.append("g");
  var mtaken = drawTags(g, c.mtags, [c.firstMacdTag || "#ff0000", "#008a00"], m, ".2f", c.axis, x1 - 2, c.pb + 1, c.mb);
  mag.attr("transform", "translate(" + c.axis + ",0)")
    .call(d3.axisRight(m).tickValues(freeTicks(c.mticks, m, mtaken)).tickFormat(d3.format(".2f")).tickSize(0).tickPadding(3))
    .call(styleAxis);

  // indicator caption, unless the data window sits on it
  var b = c.infoBox;
  var covered = b && b[0] < c.left + 36 && b[1] < c.pb + 9 && b[1] + b[3] > c.pb + 1;
  if (!covered) g.append("text").attr("x", c.left + 1).attr("y", c.pb + 7).attr("font-size", 5.5).attr("fill", "#333").text("MACD(6,13,9)");

  // date axis
  g.append("g").attr("transform", "translate(0," + c.mb + ")")
    .call(d3.axisBottom(x).tickValues(c.dateIdx).tickFormat(function(d, i) { return c.dates[i]; }).tickSize(2).tickPadding(1))
    .call(function(s) {
      styleAxis(s);
      s.selectAll("line").attr("stroke", "#666");
      s.selectAll("text").attr("fill", "#444");
    });
  c.dates.forEach(function(d, i) {
    if (d === "1") g.append("text").attr("x", x(c.dateIdx[i]) + 1).attr("y", c.mb + 14).attr("font-size", 6).attr("fill", "#444").text("Aug");
  });

  // data window
  if (c.info) {
    g.append("rect").attr("x", b[0]).attr("y", b[1]).attr("width", b[2]).attr("height", b[3]).attr("fill", "#fffbea").attr("opacity", 0.92);
    var lh = b[3] / c.info.length;
    g.selectAll(null).data(c.info).enter().append("text")
      .attr("x", b[0] + 1).attr("y", function(d, i) { return b[1] + lh * (i + 0.8); })
      .attr("font-size", 4.6).attr("fill", "#1b2a55").text(function(d) { return d; })
      .call(fit, b[2] - 2);
  }
}

panels.forEach(drawPanel);
</script>
</body>
</html>
